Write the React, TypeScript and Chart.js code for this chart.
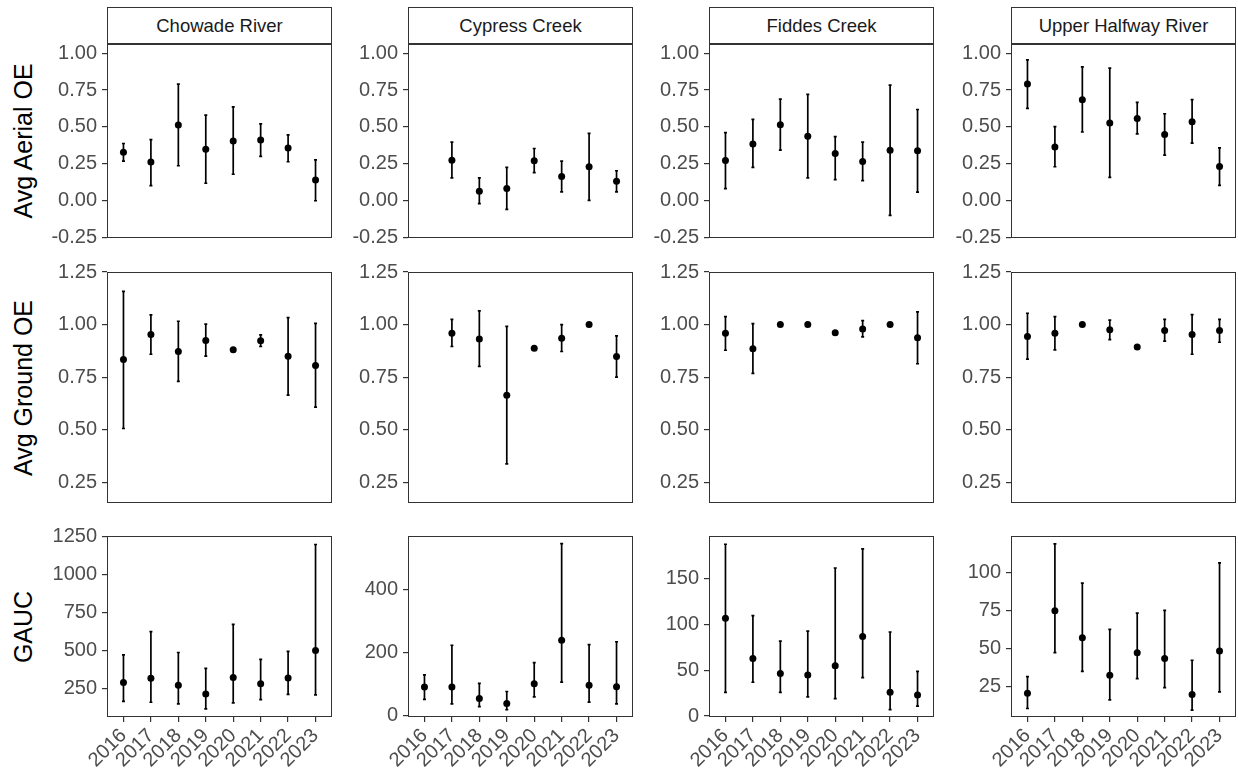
import React, { useEffect, useRef } from 'react';
import { Chart, registerables } from 'chart.js';
Chart.register(...registerables);

const years = ['2016', '2017', '2018', '2019', '2020', '2021', '2022', '2023'];
const sites = ['Chowade River', 'Cypress Creek', 'Fiddes Creek', 'Upper Halfway River'];
const metrics = ['Avg Aerial OE', 'Avg Ground OE', 'GAUC'];

// Avg Aerial OE
const chowadeAerialMean = [0.328, 0.261, 0.512, 0.348, 0.404, 0.411, 0.357, 0.139];
const chowadeAerialLow = [0.267, 0.101, 0.236, 0.117, 0.178, 0.299, 0.263, -0.002];
const chowadeAerialHigh = [0.387, 0.413, 0.791, 0.58, 0.636, 0.521, 0.445, 0.276];
const cypressAerialMean = [null, 0.274, 0.063, 0.081, 0.27, 0.162, 0.229, 0.13];
const cypressAerialLow = [null, 0.153, -0.022, -0.061, 0.189, 0.058, 0.0, 0.058];
const cypressAerialHigh = [null, 0.396, 0.153, 0.225, 0.353, 0.267, 0.456, 0.202];
const fiddesAerialMean = [0.272, 0.384, 0.515, 0.436, 0.319, 0.265, 0.342, 0.337];
const fiddesAerialLow = [0.081, 0.225, 0.342, 0.153, 0.142, 0.135, -0.101, 0.056];
const fiddesAerialHigh = [0.461, 0.551, 0.688, 0.721, 0.434, 0.396, 0.784, 0.618];
const upperAerialMean = [0.791, 0.364, 0.685, 0.526, 0.557, 0.449, 0.535, 0.231];
const upperAerialLow = [0.625, 0.229, 0.465, 0.157, 0.452, 0.308, 0.389, 0.103];
const upperAerialHigh = [0.955, 0.501, 0.908, 0.899, 0.667, 0.589, 0.685, 0.357];

// Avg Ground OE
const chowadeGroundMean = [0.834, 0.953, 0.872, 0.924, 0.88, 0.923, 0.85, 0.806];
const chowadeGroundLow = [0.506, 0.859, 0.73, 0.85, null, 0.896, 0.665, 0.608];
const chowadeGroundHigh = [1.158, 1.046, 1.016, 1.002, null, 0.951, 1.033, 1.006];
const cypressGroundMean = [null, 0.959, 0.932, 0.664, 0.888, 0.935, 1.0, 0.848];
const cypressGroundLow = [null, 0.896, 0.801, 0.338, null, 0.872, null, 0.75];
const cypressGroundHigh = [null, 1.025, 1.065, 0.992, null, 1.0, null, 0.946];
const fiddesGroundMean = [0.959, 0.885, 1.0, 1.0, 0.961, 0.979, 1.0, 0.937];
const fiddesGroundLow = [0.878, 0.768, null, null, null, 0.942, null, 0.814];
const fiddesGroundHigh = [1.038, 1.005, null, null, null, 1.019, null, 1.06];
const upperGroundMean = [0.943, 0.959, 1.0, 0.975, 0.893, 0.972, 0.953, 0.972];
const upperGroundLow = [0.836, 0.88, null, 0.929, null, 0.921, 0.859, 0.916];
const upperGroundHigh = [1.054, 1.038, null, 1.021, null, 1.025, 1.047, 1.025];

// GAUC
const chowadeGaucMean = [289, 317, 270, 213, 322, 280, 319, 499];
const chowadeGaucLow = [165, 159, 148, 116, 155, 176, 211, 207];
const chowadeGaucHigh = [471, 623, 486, 382, 671, 441, 493, 1196];
const cypressGaucMean = [91, 91, 55, 39, 102, 240, 97, 92];
const cypressGaucLow = [52, 38, 29, 19, 60, 107, 43, 38];
const cypressGaucHigh = [130, 224, 103, 77, 169, 547, 226, 235];
const fiddesGaucMean = [107, 63, 46.5, 45, 55, 87, 26, 23];
const fiddesGaucLow = [26, 37, 26, 21, 19, 42, 7, 11];
const fiddesGaucHigh = [188, 110, 82, 93, 162, 183, 92, 49];
const upperGaucMean = [20.6, 74.9, 57.1, 32.4, 47.3, 43.4, 19.8, 48.4];
const upperGaucLow = [10.6, 47.3, 35, 16.3, 30.2, 24.3, 9.5, 21.5];
const upperGaucHigh = [31.6, 118.8, 93, 62.6, 73.3, 75.1, 42.3, 106.3];

// axis limits and tick values
const aerialRange = [-0.255, 1.063];
const groundRange = [0.152, 1.25];
const aerialTicks = [-0.25, 0, 0.25, 0.5, 0.75, 1.0];
const groundTicks = [0.25, 0.5, 0.75, 1.0, 1.25];
const gaucMin = [62, -4, -1, 5];
const gaucMax = [1252, 571, 197, 124];
const chowadeGaucTicks = [250, 500, 750, 1000, 1250];
const cypressGaucTicks = [0, 200, 400];
const fiddesGaucTicks = [0, 50, 100, 150];
const upperGaucTicks = [25, 50, 75, 100];
const gaucTicks = [chowadeGaucTicks, cypressGaucTicks, fiddesGaucTicks, upperGaucTicks];

type Series = { mean: (number | null)[]; low: (number | null)[]; high: (number | null)[] };
const panels: Series[][] = [
  [
    { mean: chowadeAerialMean, low: chowadeAerialLow, high: chowadeAerialHigh },
    { mean: cypressAerialMean, low: cypressAerialLow, high: cypressAerialHigh },
    { mean: fiddesAerialMean, low: fiddesAerialLow, high: fiddesAerialHigh },
    { mean: upperAerialMean, low: upperAerialLow, high: upperAerialHigh },
  ],
  [
    { mean: chowadeGroundMean, low: chowadeGroundLow, high: chowadeGroundHigh },
    { mean: cypressGroundMean, low: cypressGroundLow, high: cypressGroundHigh },
    { mean: fiddesGroundMean, low: fiddesGroundLow, high: fiddesGroundHigh },
    { mean: upperGroundMean, low: upperGroundLow, high: upperGroundHigh },
  ],
  [
    { mean: chowadeGaucMean, low: chowadeGaucLow, high: chowadeGaucHigh },
    { mean: cypressGaucMean, low: cypressGaucLow, high: cypressGaucHigh },
    { mean: fiddesGaucMean, low: fiddesGaucLow, high: fiddesGaucHigh },
    { mean: upperGaucMean, low: upperGaucLow, high: upperGaucHigh },
  ],
];

const FONT = '"Liberation Sans", Arial, Helvetica, sans-serif';
const PLOT_LEFT = [107, 408, 709, 1011];
const PLOT_W = 225;
const PLOT_TOP = [44, 272, 536];
const PLOT_H = [194, 231, 181];
const STRIP_TOP = 7;
const Y_AXIS_W = 90;
const X_AXIS_H = 70;
const PAD = 24;
const CAP = 1.5;

function axisLimits(row: number, col: number) {
  if (row === 0) return { min: aerialRange[0], max: aerialRange[1], ticks: aerialTicks };
  if (row === 1) return { min: groundRange[0], max: groundRange[1], ticks: groundTicks };
  return { min: gaucMin[col], max: gaucMax[col], ticks: gaucTicks[col] };
}

function Panel({ row, col }: { row: number; col: number }) {
  const wrapRef = useRef<HTMLDivElement>(null);
  const canvasRef = useRef<HTMLCanvasElement>(null);

  useEffect(() => {
    const canvas = canvasRef.current!;
    const wrap = wrapRef.current!;
    const d = panels[row][col];
    const bottom = row === 2;
    const lim = axisLimits(row, col);
    const W0 = PLOT_W + Y_AXIS_W + 2 * PAD;
    const H0 = PLOT_H[row] + (bottom ? X_AXIS_H : 0) + 2 * PAD;
    canvas.width = W0;
    canvas.height = H0;
    canvas.style.width = W0 + 'px';
    canvas.style.height = H0 + 'px';

    const errorBars = {
      id: 'errorBars',
      beforeDatasetsDraw(chart: any) {
        const ctx = chart.ctx;
        const xs = chart.scales.x;
        const ys = chart.scales.y;
        ctx.save();
        ctx.strokeStyle = '#000';
        ctx.lineWidth = 1.7;
        d.low.forEach((lo, i) => {
          const hi = d.high[i];
          if (lo == null || hi == null) return;
          const x = xs.getPixelForValue(i);
          const y1 = ys.getPixelForValue(lo);
          const y2 = ys.getPixelForValue(hi);
          ctx.beginPath();
          ctx.moveTo(x, y1);
          ctx.lineTo(x, y2);
          ctx.moveTo(x - CAP, y1);
          ctx.lineTo(x + CAP, y1);
          ctx.moveTo(x - CAP, y2);
          ctx.lineTo(x + CAP, y2);
          ctx.stroke();
        });
        ctx.restore();
      },
    };
    const panelBorder = {
      id: 'panelBorder',
      afterDraw(chart: any) {
        const { left, top, right, bottom: b } = chart.chartArea;
        const ctx = chart.ctx;
        ctx.save();
        ctx.strokeStyle = '#333333';
        ctx.lineWidth = 1;
        ctx.strokeRect(Math.round(left) + 0.5, Math.round(top) + 0.5, Math.round(right - left) - 1, Math.round(b - top) - 1);
        ctx.restore();
      },
    };

    const points = d.mean
      .map((v, i) => (v == null ? null : { x: i, y: v }))
      .filter((p) => p !== null) as { x: number; y: number }[];

    const tickFont = { family: FONT, size: 20 };
    const chart = new Chart(canvas, {
      type: 'scatter',
      data: {
        datasets: [
          {
            data: points,
            pointRadius: 3.5,
            pointHoverRadius: 3.5,
            pointBackgroundColor: '#000',
            pointBorderWidth: 0,
            borderColor: '#000',
            clip: false as any,
          },
        ],
      },
      options: {
        responsive: false,
        maintainAspectRatio: false,
        animation: false,
        events: [],
        layout: { padding: PAD },
        plugins: { legend: { display: false }, tooltip: { enabled: false } },
        scales: {
          x: {
            type: 'linear',
            min: -0.6,
            max: 7.6,
            display: bottom,
            afterBuildTicks: (s: any) => {
              s.ticks = years.map((_, i) => ({ value: i }));
            },
            afterFit: (s: any) => {
              s.height = X_AXIS_H;
            },
            grid: { drawOnChartArea: false, drawTicks: true, tickLength: 5, color: '#333333', lineWidth: 1.2 },
            border: { display: false },
            ticks: {
              autoSkip: false,
              maxRotation: 45,
              minRotation: 45,
              padding: 2,
              color: '#4d4d4d',
              font: tickFont,
              callback: (v: any) => (Number.isInteger(v) && years[v] ? years[v] : ''),
            },
          },
          y: {
            type: 'linear',
            position: 'left',
            min: lim.min,
            max: lim.max,
            afterBuildTicks: (s: any) => {
              s.ticks = lim.ticks.map((v) => ({ value: v }));
            },
            afterFit: (s: any) => {
              s.width = Y_AXIS_W;
            },
            grid: { drawOnChartArea: false, drawTicks: true, tickLength: 5, color: '#333333', lineWidth: 1.2 },
            border: { display: false },
            ticks: {
              autoSkip: false,
              padding: 5,
              color: '#4d4d4d',
              font: tickFont,
              callback: (v: any) => (row < 2 ? Number(v).toFixed(2) : String(v)),
            },
          },
        },
      },
      plugins: [errorBars, panelBorder],
    } as any);

    let ca = chart.chartArea;
    const dw = PLOT_W - (ca.right - ca.left);
    const dh = PLOT_H[row] - (ca.bottom - ca.top);
    if (Math.abs(dw) > 0.01 || Math.abs(dh) > 0.01) {
      chart.resize(W0 + dw, H0 + dh);
      ca = chart.chartArea;
    }
    wrap.style.left = PLOT_LEFT[col] - ca.left + 'px';
    wrap.style.top = PLOT_TOP[row] - ca.top + 'px';
    return () => chart.destroy();
  }, [row, col]);

  return (
    <div ref={wrapRef} style={{ position: 'absolute', left: 0, top: 0 }}>
      <canvas ref={canvasRef} />
    </div>
  );
}

export default function App() {
  const cells: React.ReactNode[] = [];
  for (let r = 0; r < 3; r++) {
    for (let c = 0; c < 4; c++) cells.push(<Panel key={r + '-' + c} row={r} col={c} />);
  }
  return (
    <div
      style={{
        position: 'absolute',
        left: 0,
        top: 0,
        width: 1238,
        height: 774,
        background: '#fff',
        fontFamily: FONT,
        overflow: 'hidden',
      }}
    >
      {sites.map((s, c) => (
        <div
          key={s}
          style={{
            position: 'absolute',
            left: PLOT_LEFT[c],
            top: STRIP_TOP,
            width: PLOT_W,
            height: PLOT_TOP[0] - STRIP_TOP + 1,
            boxSizing: 'border-box',
            border: '1px solid #333',
            borderBottom: '2px solid #333',
            display: 'flex',
            alignItems: 'center',
            justifyContent: 'center',
            fontSize: 18.5,
            color: '#1a1a1a',
          }}
        >
          {s}
        </div>
      ))}
      {metrics.map((m, r) => (
        <div
          key={m}
          style={{
            position: 'absolute',
            left: 23,
            top: PLOT_TOP[r] + PLOT_H[r] / 2,
            transform: 'translate(-50%, -50%) rotate(-90deg)',
            whiteSpace: 'nowrap',
            fontSize: 25,
            color: '#000',
            lineHeight: 1,
          }}
        >
          {m}
        </div>
      ))}
      {cells}
    </div>
  );
}
